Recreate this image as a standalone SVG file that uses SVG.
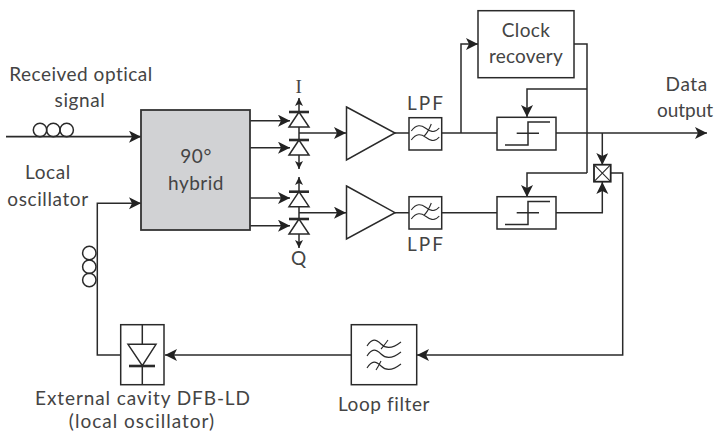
<svg xmlns="http://www.w3.org/2000/svg" width="717" height="433" viewBox="0 0 717 433">
<style>
text{font-family:"Lato","Liberation Sans",sans-serif;font-size:19px;fill:#444;text-anchor:middle;letter-spacing:.6px}
.b{fill:#fff;stroke:#2a2a2a;stroke-width:1.5}
.l{fill:none;stroke:#2a2a2a;stroke-width:1.5}
.a{fill:none;stroke:#2a2a2a;stroke-width:1.5;marker-end:url(#m)}
.s{fill:none;stroke:#2a2a2a;stroke-width:1.1}
.bar{fill:none;stroke:#2a2a2a;stroke-width:2.6}
</style>
<defs>
<marker id="m" markerUnits="userSpaceOnUse" markerWidth="14" markerHeight="14" refX="12" refY="6" orient="auto"><path d="M0 0L12 6L0 12L3 6Z" fill="#222"/></marker>
<marker id="n" markerUnits="userSpaceOnUse" markerWidth="10" markerHeight="10" refX="8" refY="4" orient="auto"><path d="M0 0L8 4L0 8L2 4Z" fill="#222"/></marker>
<g id="lpfw"><path class="s" d="M-14 -3C-9 -10 -4 -9 0 -6S9 0 14 -6M-14 6C-9 -1 -4 0 0 3S9 9 14 3M6 -10C4 -5 2 -1 -1 2"/></g>
<g id="diode"><path class="l" d="M0 0L-10 15H10Z"/><path class="bar" d="M-10 0H10"/></g>
<g id="step"><path class="l" d="M8 27.700H31V4.700H53M19.700 16H42"/></g>
</defs>
<g id="connectors">
<path class="a" d="M6 136.700H141" style="stroke-width:1.800"/>
<path class="a" d="M120.700 355H97.300V203.300H141"/>
<path class="a" d="M250 120.700H290"/><path class="a" d="M250 147.700H290"/><path class="a" d="M250 198H290"/><path class="a" d="M250 225.700H290"/>
<path class="a" d="M299 112V98" style="marker-end:url(#n)"/><path class="a" d="M299 155V169" style="marker-end:url(#n)"/>
<path class="a" d="M299 192V177" style="marker-end:url(#n)"/><path class="a" d="M299 234V248" style="marker-end:url(#n)"/>
<path class="l" d="M299 127V140M299 206V219"/>
<path class="a" d="M299 133H346"/><path class="a" d="M299 212.700H346"/>
<path class="l" d="M395 133H409M395 212.700H409M441.700 212.700H497"/>
<path class="a" d="M461 133V44H478"/>
<path class="l" d="M441.700 133H497"/>
<path class="a" d="M556 133H707"/>
<path class="l" d="M574 44H587V173"/>
<path class="a" d="M587 89H527V117"/><path class="a" d="M587 173H527V197"/>
<path class="a" d="M602.300 133V165"/>
<path class="a" d="M556 212.700H602.300V182"/>
<path class="a" d="M611 173H622.700V355H417"/>
<path class="a" d="M351 355H165"/>
</g>
<g id="fiber-signal"><circle class="l" cx="40" cy="130" r="6.700"/><circle class="l" cx="53.300" cy="130" r="6.700"/><circle class="l" cx="66.700" cy="130" r="6.700"/></g>
<g id="fiber-lo"><circle class="l" cx="89.300" cy="253" r="6.700"/><circle class="l" cx="89.300" cy="266.700" r="6.700"/><circle class="l" cx="89.300" cy="280" r="6.700"/></g>
<g id="hybrid"><rect x="141" y="110" width="109" height="120" fill="#d1d2d4" stroke="#333" stroke-width="1.800"/><text x="196" y="163">90°</text><text x="196" y="190" style="letter-spacing:.5px">hybrid</text></g>
<g id="photodiodes-i"><use href="#diode" x="299" y="112"/><use href="#diode" x="299" y="140"/><text x="299" y="93" style="font-family:'Liberation Serif',serif">I</text></g>
<g id="photodiodes-q"><use href="#diode" x="299" y="191.700"/><use href="#diode" x="299" y="219"/><text x="299" y="265">Q</text></g>
<g id="amp-i"><path class="b" d="M346.500 107L395 133L346.500 160Z"/></g>
<g id="amp-q"><path class="b" d="M346.500 186L395 212.700L346.500 239Z"/></g>
<g id="lpf-i"><rect class="b" x="409" y="117.700" width="32.700" height="32.300"/><use href="#lpfw" x="425.300" y="134"/><text x="426" y="110" style="letter-spacing:2px">LPF</text></g>
<g id="lpf-q"><rect class="b" x="409" y="196.700" width="32.700" height="32.300"/><use href="#lpfw" x="425.300" y="213"/><text x="426" y="251" style="letter-spacing:2px">LPF</text></g>
<g id="clock"><rect class="b" x="478" y="10.700" width="96" height="67"/><text x="526" y="37" style="letter-spacing:.4px">Clock</text><text x="526" y="63" style="letter-spacing:.2px">recovery</text></g>
<g id="decision-i"><rect class="b" x="497" y="117.300" width="59" height="32.700"/><use href="#step" x="497" y="117.300"/></g>
<g id="decision-q"><rect class="b" x="497" y="196.700" width="59" height="32.300"/><use href="#step" x="497" y="196.700"/></g>
<g id="mixer"><rect x="594" y="164.700" width="16.700" height="17" fill="#fff" stroke="#222" stroke-width="1.800"/><path class="s" d="M594 164.700L610.700 181.700M610.700 164.700L594 181.700"/></g>
<g id="loop-filter"><rect class="b" x="351.300" y="324.700" width="65.400" height="60"/><path class="s" d="M367 346C372 338 376 339 381 344S392 349 401 342M367 356C372 348 376 349 381 354S392 359 401 352M367 368C372 360 376 361 381 366S392 371 401 364M388 340C385 344 384 346 381 349M381 361C379 365 378 367 376 370"/><text x="384" y="410.700">Loop filter</text></g>
<g id="dfb-ld"><rect class="b" x="120.700" y="324.700" width="43.300" height="60"/><path class="l" d="M142.300 324.700V384.700"/><path class="b" d="M128 344.300H156L142.300 365.700Z"/><path class="bar" d="M129 366H155"/><text x="143" y="405" style="letter-spacing:.9px">External cavity DFB-LD</text><text x="142" y="428" style="letter-spacing:1px">(local oscillator)</text></g>
<g id="labels"><text x="81" y="81" style="letter-spacing:.5px">Received optical</text><text x="80" y="107">signal</text><text x="48" y="179">Local</text><text x="48" y="205.700">oscillator</text><text x="686.700" y="91">Data</text><text x="685" y="117" style="letter-spacing:0">output</text></g>
</svg>
